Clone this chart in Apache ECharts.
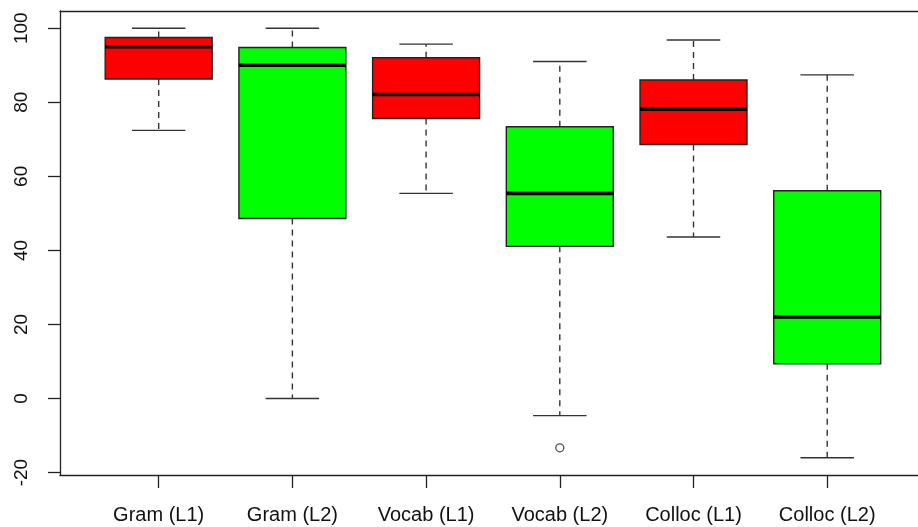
<!DOCTYPE html>
<html>
<head>
<meta charset="utf-8">
<script src="https://cdn.jsdelivr.net/npm/echarts@6/dist/echarts.min.js"></script>
<style>
html,body{margin:0;padding:0;background:#fff;}
#chart{width:918px;height:527px;}
</style>
</head>
<body>
<div id="chart"></div>
<script>
var categories = ['Gram (L1)', 'Gram (L2)', 'Vocab (L1)', 'Vocab (L2)', 'Colloc (L1)', 'Colloc (L2)'];
var lowWhisker = [72.4, 0, 55.4, -4.6, 43.6, -16.0];
var q1 = [86.3, 48.6, 75.6, 41.1, 68.6, 9.4];
var median = [95.0, 90.0, 82.1, 55.4, 78.1, 22.0];
var q3 = [97.5, 94.8, 92.0, 73.4, 86.0, 56.1];
var highWhisker = [100, 100, 95.7, 91.0, 96.8, 87.4];
var outliers = [[4, -13.3]];
var yTicks = [-20, 0, 20, 40, 60, 80, 100];

var fills = ['#FF0000', '#00FF00', '#FF0000', '#00FF00', '#FF0000', '#00FF00'];
var boxData = categories.map(function (c, i) {
  return [i + 1, lowWhisker[i], q1[i], median[i], q3[i], highWhisker[i]];
});
var xTicks = categories.map(function (c, i) { return i + 1; });

var chart = echarts.init(document.getElementById('chart'), null, {renderer: 'canvas'});
var FONT = 'Liberation Sans, Arial, sans-serif';
var AX = {color: '#222', width: 1.3};

chart.setOption({
  animation: false,
  backgroundColor: '#fff',
  grid: {left: 60, top: 11, right: 0, bottom: 52, show: false},
  xAxis: [
    {
      type: 'value', min: 0.262, max: 6.679, position: 'bottom',
      splitLine: {show: false},
      axisLine: {show: true, onZero: false, lineStyle: AX},
      axisTick: {show: true, customValues: xTicks, length: 13, lineStyle: AX},
      axisLabel: {customValues: xTicks, margin: 30, color: '#111', fontSize: 20, fontFamily: FONT,
        formatter: function (v) { return categories[Math.round(v) - 1] || ''; }}
    },
    {
      type: 'value', min: 0.262, max: 6.679, position: 'top',
      splitLine: {show: false},
      axisLine: {show: true, onZero: false, lineStyle: AX},
      axisTick: {show: false},
      axisLabel: {show: false}
    }
  ],
  yAxis: {
    type: 'value', min: -20.64, max: 104.64,
    splitLine: {show: false},
    axisLine: {show: true, onZero: false, lineStyle: AX},
    axisTick: {show: true, customValues: yTicks, length: 12, lineStyle: AX},
    axisLabel: {customValues: yTicks, rotate: 90, margin: 29, color: '#111', fontSize: 19, fontFamily: FONT,
      formatter: function (v) { return String(v); }}
  },
  series: [
    {
      type: 'custom',
      data: boxData,
      xAxisIndex: 0,
      encode: {x: 0, y: [1, 2, 3, 4, 5]},
      renderItem: function (params, api) {
        var x = api.value(0);
        var lo = api.coord([x, api.value(1)]);
        var b1 = api.coord([x, api.value(2)]);
        var md = api.coord([x, api.value(3)]);
        var b3 = api.coord([x, api.value(4)]);
        var hi = api.coord([x, api.value(5)]);
        var bw = api.size([0.8, 0])[0];
        var cw = api.size([0.4, 0])[0];
        var cx = lo[0];
        var wStyle = {stroke: '#333', lineWidth: 1.4, lineDash: [6, 5]};
        var cStyle = {stroke: '#333', lineWidth: 1.4};
        return {
          type: 'group',
          children: [
            {type: 'line', shape: {x1: cx, y1: b3[1], x2: cx, y2: hi[1]}, style: wStyle},
            {type: 'line', shape: {x1: cx, y1: b1[1], x2: cx, y2: lo[1]}, style: wStyle},
            {type: 'line', shape: {x1: cx - cw / 2, y1: hi[1], x2: cx + cw / 2, y2: hi[1]}, style: cStyle},
            {type: 'line', shape: {x1: cx - cw / 2, y1: lo[1], x2: cx + cw / 2, y2: lo[1]}, style: cStyle},
            {type: 'rect', shape: {x: cx - bw / 2, y: b3[1], width: bw, height: b1[1] - b3[1]},
              style: {fill: fills[params.dataIndex], stroke: '#222', lineWidth: 1.4}},
            {type: 'line', shape: {x1: cx - bw / 2, y1: md[1], x2: cx + bw / 2, y2: md[1]},
              style: {stroke: '#000', lineWidth: 3.6}}
          ]
        };
      },
      z: 2
    },
    {
      type: 'scatter',
      xAxisIndex: 0,
      data: outliers,
      symbol: 'circle',
      symbolSize: 8,
      itemStyle: {color: '#fff', borderColor: '#222', borderWidth: 1.3},
      z: 3
    }
  ]
});
</script>
</body>
</html>
